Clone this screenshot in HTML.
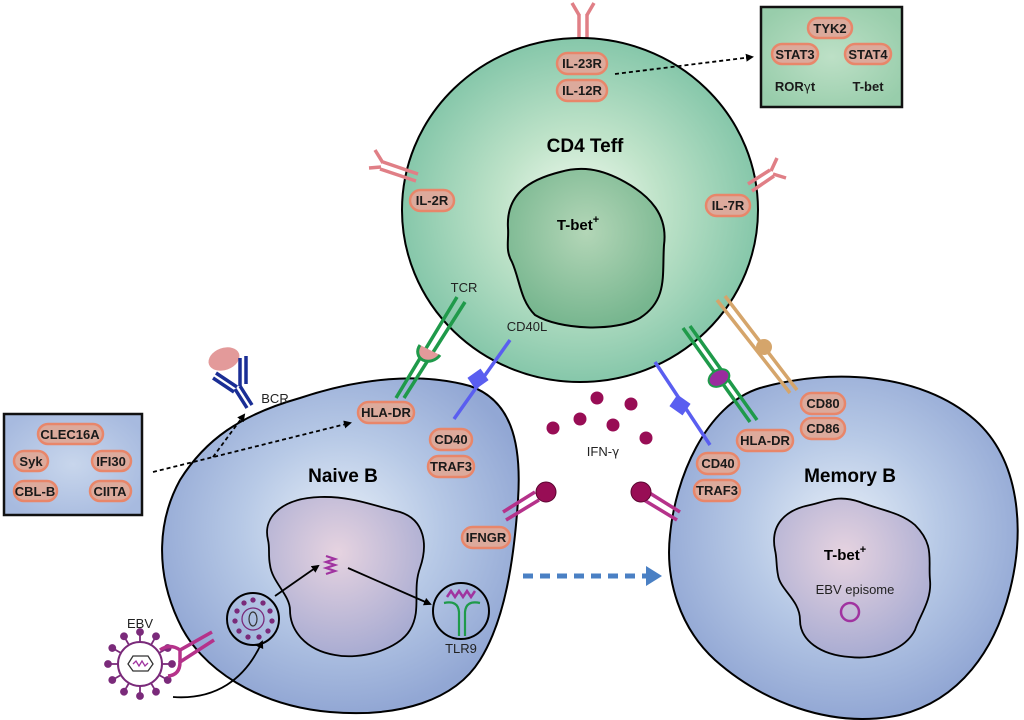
<!DOCTYPE html>
<html><head><meta charset="utf-8"><style>
html,body{margin:0;padding:0;background:#fff;}
svg{display:block;}
.p{fill:#dcaa9c;stroke:#e8866a;stroke-width:2.5;}
.pt{font-family:"Liberation Sans Narrow","Liberation Sans",sans-serif;font-weight:bold;font-size:13px;fill:#1a1a1a;text-anchor:middle;}
.lb{font-family:"Liberation Sans",sans-serif;font-size:13px;fill:#222;text-anchor:middle;}
.big{font-family:"Liberation Sans",sans-serif;font-weight:bold;font-size:19px;fill:#000;text-anchor:middle;}
.mid{font-family:"Liberation Sans",sans-serif;font-weight:bold;font-size:15px;fill:#000;text-anchor:middle;}
</style></head><body>
<svg width="1024" height="720" viewBox="0 0 1024 720" xmlns="http://www.w3.org/2000/svg">
<defs>
<radialGradient id="gT" cx="50%" cy="50%" r="50%"><stop offset="0" stop-color="#f2faf0"/><stop offset="0.45" stop-color="#bfe3c9"/><stop offset="1" stop-color="#86c7aa"/></radialGradient>
<radialGradient id="gTn" cx="50%" cy="40%" r="60%"><stop offset="0" stop-color="#b3d6b7"/><stop offset="1" stop-color="#77b68f"/></radialGradient>
<radialGradient id="gB" cx="50%" cy="45%" r="55%"><stop offset="0" stop-color="#e6eef7"/><stop offset="0.5" stop-color="#b7c9e6"/><stop offset="1" stop-color="#92a7d4"/></radialGradient>
<radialGradient id="gBn" cx="45%" cy="35%" r="65%"><stop offset="0" stop-color="#e6d3e0"/><stop offset="1" stop-color="#a9acd2"/></radialGradient>
<radialGradient id="gBox" cx="50%" cy="50%" r="60%"><stop offset="0" stop-color="#c8d6ec"/><stop offset="1" stop-color="#a7badf"/></radialGradient>
<radialGradient id="gBox2" cx="50%" cy="50%" r="60%"><stop offset="0" stop-color="#bde0c6"/><stop offset="1" stop-color="#98cdab"/></radialGradient>
<marker id="ah" markerWidth="8" markerHeight="8" refX="6" refY="4" orient="auto" markerUnits="userSpaceOnUse"><path d="M0,0 L8,4 L0,8 z" fill="#000"/></marker>
<marker id="ahb" markerWidth="16" markerHeight="20" refX="4" refY="10" orient="auto" markerUnits="userSpaceOnUse"><path d="M0,0 L16,10 L0,20 z" fill="#4a80c4"/></marker>
</defs>

<g stroke="#e07f86" stroke-width="3.5" fill="none">
<line x1="579" y1="14" x2="579" y2="55"/><line x1="587" y1="14" x2="587" y2="55"/>
<path d="M579,15 L572,3 M587,15 L594,3"/>
</g>

<ellipse cx="580" cy="210" rx="178" ry="172" fill="url(#gT)" stroke="#000" stroke-width="2"/>
<path d="M508,228 C506,195 528,180 560,172 C580,166 600,168 625,182 C650,196 668,215 664,245 C662,275 668,300 640,318 C615,332 560,330 535,315 C520,300 520,280 512,262 C505,250 509,240 508,228 Z" fill="url(#gTn)" stroke="#000" stroke-width="2"/>
<text class="big" x="585" y="152">CD4 Teff</text>
<text class="mid" x="578" y="230">T-bet<tspan font-size="11" dy="-7">+</tspan></text>

<g stroke="#e07f86" stroke-width="3.5" fill="none">
<line x1="383" y1="162" x2="418" y2="174"/><line x1="380" y1="169" x2="416" y2="181"/>
<path d="M383,163 L375,150 M381,167 L369,168"/>
<line x1="770" y1="170" x2="748" y2="184"/><line x1="774" y1="176" x2="752" y2="191"/>
<path d="M771,171 L777,158 M773,174 L786,178"/>
</g>

<rect class="p" x="557" y="53" width="50" height="21" rx="10.5"/><text class="pt" x="582" y="68">IL-23R</text>
<rect class="p" x="557" y="80" width="50" height="21" rx="10.5"/><text class="pt" x="582" y="95">IL-12R</text>
<rect class="p" x="410" y="190" width="44" height="21" rx="10.5"/><text class="pt" x="432" y="205">IL-2R</text>
<rect class="p" x="706" y="195" width="44" height="21" rx="10.5"/><text class="pt" x="728" y="210">IL-7R</text>

<line x1="615" y1="74" x2="752" y2="57" stroke="#000" stroke-width="1.8" stroke-dasharray="4,3" marker-end="url(#ah)"/>
<rect x="761" y="7" width="141" height="100" fill="url(#gBox2)" stroke="#111" stroke-width="2.5"/>
<rect class="p" x="808" y="18" width="44" height="20" rx="10"/><text class="pt" x="830" y="33">TYK2</text>
<rect class="p" x="772" y="44" width="46" height="20" rx="10"/><text class="pt" x="795" y="59">STAT3</text>
<rect class="p" x="845" y="44" width="46" height="20" rx="10"/><text class="pt" x="868" y="59">STAT4</text>
<text class="pt" x="795" y="91">ROR<tspan font-family="DejaVu Sans" font-weight="normal" font-size="12">γ</tspan>t</text>
<text class="pt" x="868" y="91">T-bet</text>

<path d="M300,398 C360,378 420,372 470,386 C510,400 522,440 518,500 C514,560 505,620 480,660 C455,700 400,718 330,712 C260,706 200,670 178,620 C155,570 158,520 180,480 C205,440 240,415 300,398 Z" fill="url(#gB)" stroke="#000" stroke-width="2"/>
<path d="M268,540 C262,515 285,498 320,497 C350,496 372,505 400,512 C425,520 428,545 420,568 C412,590 422,610 410,630 C398,650 360,660 335,655 C305,650 290,630 290,610 C290,595 272,582 270,565 C268,555 270,548 268,540 Z" fill="url(#gBn)" stroke="#000" stroke-width="1.8"/>
<text class="big" x="343" y="482">Naive B</text>

<path d="M760,388 C830,368 920,372 975,420 C1020,460 1025,530 1010,590 C995,650 960,700 900,715 C830,730 760,700 715,660 C680,628 665,580 670,535 C675,480 705,405 760,388 Z" fill="url(#gB)" stroke="#000" stroke-width="2"/>
<path d="M775,550 C770,525 785,510 810,505 C830,500 840,495 860,502 C880,510 900,512 915,525 C935,545 928,560 930,580 C932,600 920,615 915,630 C905,650 875,660 850,657 C820,655 800,640 800,620 C800,600 780,590 778,575 C776,565 777,558 775,550 Z" fill="url(#gBn)" stroke="#000" stroke-width="1.8"/>
<text class="big" x="850" y="482">Memory B</text>
<text class="mid" x="845" y="560">T-bet<tspan font-size="11" dy="-7">+</tspan></text>
<text class="lb" x="855" y="594">EBV episome</text>
<circle cx="850" cy="612" r="9" fill="none" stroke="#a033a0" stroke-width="2.5"/>

<ellipse cx="224" cy="359" rx="16" ry="11" transform="rotate(-20 224 359)" fill="#e39a9a"/>
<g stroke="#1a2e95" stroke-width="3.5" fill="none">
<line x1="252" y1="405" x2="240" y2="386"/><line x1="247" y1="408" x2="235" y2="389"/>
<line x1="237" y1="387" x2="216" y2="373"/><line x1="234" y1="392" x2="213" y2="378"/>
<line x1="240" y1="386" x2="240" y2="358"/><line x1="246" y1="384" x2="246" y2="356"/>
</g>
<text class="lb" x="275" y="403" font-size="14">BCR</text>

<g stroke="#1f9a4a" stroke-width="3.5" fill="none">
<line x1="396" y1="398" x2="457" y2="297"/><line x1="404" y1="398" x2="465" y2="302"/>
</g>
<path d="M420,345 a12,10 -30 1,0 20,10" fill="#e39a9a" stroke="#1f9a4a" stroke-width="3"/>
<text class="lb" x="464" y="292">TCR</text>
<line x1="454" y1="419" x2="510" y2="340" stroke="#5a5ef0" stroke-width="3.5"/>
<rect x="470" y="372" width="16" height="14" fill="#5a5ef0" transform="rotate(-35 478 379)"/>
<text class="lb" x="527" y="331" font-size="14">CD40L</text>

<line x1="655" y1="362" x2="710" y2="445" stroke="#5a5ef0" stroke-width="3.5"/>
<rect x="672" y="398" width="16" height="14" fill="#5a5ef0" transform="rotate(35 680 405)"/>
<g stroke="#1f9a4a" stroke-width="3.5" fill="none">
<line x1="683" y1="328" x2="750" y2="422"/><line x1="690" y1="326" x2="757" y2="420"/>
</g>
<ellipse cx="719" cy="378" rx="11" ry="8" transform="rotate(-30 719 378)" fill="#9a2c9e" stroke="#1f9a4a" stroke-width="2"/>
<g stroke="#d5a56b" stroke-width="3.5" fill="none">
<line x1="717" y1="300" x2="790" y2="393"/><line x1="725" y1="296" x2="797" y2="390"/>
</g>
<circle cx="764" cy="347" r="8" fill="#d5a56b"/>

<g fill="#980d55">
<circle cx="597" cy="398" r="6.5"/><circle cx="631" cy="404" r="6.5"/><circle cx="580" cy="419" r="6.5"/>
<circle cx="613" cy="425" r="6.5"/><circle cx="553" cy="428" r="6.5"/><circle cx="646" cy="438" r="6.5"/>
</g>
<text class="lb" x="603" y="456">IFN-<tspan font-family="DejaVu Sans" font-size="12">γ</tspan></text>

<g stroke="#b5328a" stroke-width="3.5" fill="none">
<line x1="503" y1="512" x2="535" y2="492"/><line x1="506" y1="520" x2="539" y2="500"/>
<line x1="680" y1="512" x2="648" y2="492"/><line x1="677" y1="520" x2="644" y2="500"/>
</g>
<circle cx="546" cy="492" r="10" fill="#980d55" stroke="#5a0530" stroke-width="1"/>
<circle cx="641" cy="492" r="10" fill="#980d55" stroke="#5a0530" stroke-width="1"/>

<rect class="p" x="358" y="402" width="56" height="21" rx="10.5"/><text class="pt" x="386" y="417">HLA-DR</text>
<rect class="p" x="430" y="429" width="42" height="21" rx="10.5"/><text class="pt" x="451" y="444">CD40</text>
<rect class="p" x="428" y="456" width="46" height="21" rx="10.5"/><text class="pt" x="451" y="471">TRAF3</text>
<rect class="p" x="462" y="527" width="48" height="21" rx="10.5"/><text class="pt" x="486" y="542">IFNGR</text>
<rect class="p" x="697" y="453" width="42" height="21" rx="10.5"/><text class="pt" x="718" y="468">CD40</text>
<rect class="p" x="694" y="480" width="46" height="21" rx="10.5"/><text class="pt" x="717" y="495">TRAF3</text>
<rect class="p" x="737" y="430" width="56" height="21" rx="10.5"/><text class="pt" x="765" y="445">HLA-DR</text>
<rect class="p" x="801" y="393" width="44" height="21" rx="10.5"/><text class="pt" x="823" y="408">CD80</text>
<rect class="p" x="801" y="418" width="44" height="21" rx="10.5"/><text class="pt" x="823" y="433">CD86</text>

<rect x="4" y="414" width="138" height="101" fill="url(#gBox)" stroke="#111" stroke-width="2.5"/>
<rect class="p" x="38" y="424" width="65" height="20" rx="10"/><text class="pt" x="70" y="439">CLEC16A</text>
<rect class="p" x="14" y="451" width="34" height="20" rx="10"/><text class="pt" x="31" y="466">Syk</text>
<rect class="p" x="92" y="451" width="39" height="20" rx="10"/><text class="pt" x="111" y="466">IFI30</text>
<rect class="p" x="14" y="481" width="43" height="20" rx="10"/><text class="pt" x="35" y="496">CBL-B</text>
<rect class="p" x="90" y="481" width="41" height="20" rx="10"/><text class="pt" x="110" y="496">CIITA</text>
<g stroke="#000" stroke-width="1.8" stroke-dasharray="4,3" fill="none">
<line x1="153" y1="472" x2="350" y2="423" marker-end="url(#ah)"/>
<line x1="213" y1="457" x2="244" y2="415" marker-end="url(#ah)"/>
</g>

<circle cx="253" cy="619" r="26" fill="none" stroke="#000" stroke-width="2"/>
<g fill="#7a2a7a" stroke="#7a2a7a" stroke-width="1.3">
<circle cx="253" cy="619" r="11" fill="none"/>
<circle cx="253" cy="600" r="2"/><circle cx="263" cy="603" r="2"/><circle cx="270" cy="611" r="2"/><circle cx="272" cy="621" r="2"/><circle cx="268" cy="631" r="2"/><circle cx="259" cy="637" r="2"/><circle cx="248" cy="637" r="2"/><circle cx="239" cy="631" r="2"/><circle cx="235" cy="621" r="2"/><circle cx="237" cy="611" r="2"/><circle cx="244" cy="603" r="2"/>
</g>
<ellipse cx="253" cy="619" rx="4" ry="7" fill="none" stroke="#333" stroke-width="1.2"/>
<path d="M326,556 l9,3 l-9,3 l9,3 l-9,3 l9,3 l-9,3" fill="none" stroke="#a033a0" stroke-width="2.2"/>
<circle cx="461" cy="611" r="28" fill="none" stroke="#000" stroke-width="2"/>
<path d="M447,597 l4,-6 l4,6 l4,-6 l4,6 l4,-6 l4,6 l4,-6" fill="none" stroke="#a033a0" stroke-width="2.5"/>
<g stroke="#1f9a4a" stroke-width="2.2" fill="none">
<path d="M444,603 Q458,600 459,612 L459,636"/><path d="M480,603 Q466,600 465,612 L465,636"/>
</g>
<text class="lb" x="461" y="653" font-size="14">TLR9</text>
<g stroke="#000" stroke-width="1.8" fill="none">
<line x1="275" y1="596" x2="318" y2="566" marker-end="url(#ah)"/>
<line x1="348" y1="568" x2="430" y2="604" marker-end="url(#ah)"/>
<path d="M173,697 C215,700 245,680 262,642" marker-end="url(#ah)"/>
</g>
<line x1="523" y1="576" x2="650" y2="576" stroke="#4a80c4" stroke-width="5" stroke-dasharray="10,7" marker-end="url(#ahb)"/>

<text class="lb" x="140" y="628" font-size="14">EBV</text>
<g stroke="#7a2a7a" stroke-width="1.8" fill="#7a2a7a">
<circle cx="140" cy="664" r="22" fill="#fff" stroke-width="2"/>
<g id="sp">
<line x1="140" y1="642" x2="140" y2="634"/><circle cx="140" cy="632" r="3"/>
</g>
<use href="#sp" transform="rotate(30 140 664)"/><use href="#sp" transform="rotate(60 140 664)"/><use href="#sp" transform="rotate(90 140 664)"/>
<use href="#sp" transform="rotate(120 140 664)"/><use href="#sp" transform="rotate(150 140 664)"/><use href="#sp" transform="rotate(180 140 664)"/>
<use href="#sp" transform="rotate(210 140 664)"/><use href="#sp" transform="rotate(240 140 664)"/><use href="#sp" transform="rotate(270 140 664)"/>
<use href="#sp" transform="rotate(300 140 664)"/><use href="#sp" transform="rotate(330 140 664)"/>
</g>
<polygon points="128,664 133,656 148,656 153,664 148,671 133,671" fill="none" stroke="#333" stroke-width="1.3"/>
<path d="M133,664 l3,-3 l3,5 l3,-5 l3,5 l3,-3" fill="none" stroke="#a033a0" stroke-width="1.3"/>
<g stroke="#b5328a" stroke-width="3.5" fill="none">
<path d="M160,650 Q170,643 180,650 L212,632"/><path d="M168,676 Q180,675 180,662 L214,640"/>
<path d="M180,650 L180,662"/>
</g>
</svg>
</body></html>
